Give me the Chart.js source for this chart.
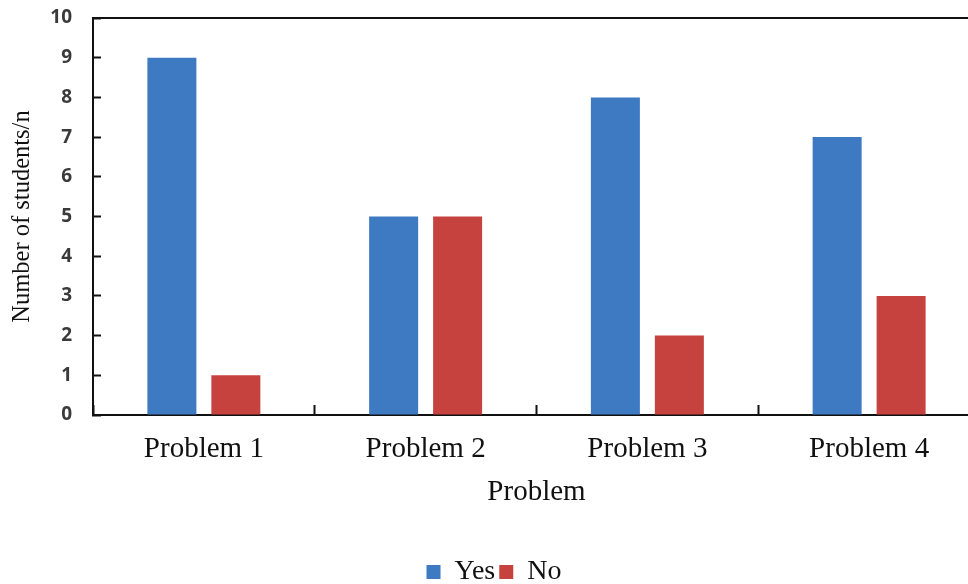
<!DOCTYPE html>
<html>
<head>
  <title>Number of students per problem</title>
  <script src="https://cdn.jsdelivr.net/npm/chart.js"></script>
  <style>
    html, body { margin: 0; padding: 0; background: #fff; overflow: hidden; }
    #wrap { width: 980px; height: 584px; }
  </style>
</head>
<body>
  <div id="wrap">
    <canvas id="studentsChart"></canvas>
  </div>

  <script>
    // Values
    const problems = ['Problem 1', 'Problem 2', 'Problem 3', 'Problem 4'];
    const yesCounts = [9, 5, 8, 7];
    const noCounts = [1, 5, 2, 3];
    const yTicks = [0, 1, 2, 3, 4, 5, 6, 7, 8, 9, 10];

    const serif = "'Liberation Serif', 'Times New Roman', serif";
    const sans = "'Open Sans', 'DejaVu Sans', sans-serif";

    const ctx = document.getElementById('studentsChart').getContext('2d');

    new Chart(ctx, {
      type: 'bar',
      data: {
        labels: problems,
        datasets: [
          {
            label: 'Yes',
            data: yesCounts,
            backgroundColor: '#3D7AC2',
            barPercentage: 0.766,
            categoryPercentage: 0.577
          },
          {
            label: 'No',
            data: noCounts,
            backgroundColor: '#C6423F',
            barPercentage: 0.766,
            categoryPercentage: 0.577
          }
        ]
      },
      options: {
        responsive: true,
        maintainAspectRatio: false,
        animation: false,
        layout: { padding: { top: 17, left: 8, right: 0, bottom: -12 } },
        scales: {
          x: {
            position: 'bottom',
            afterFit: scale => { scale.height = 139; },
            grid: {
              offset: true,
              drawOnChartArea: false,
              tickLength: -10,
              tickColor: '#111',
              tickWidth: 2
            },
            border: { color: '#111', width: 2 },
            ticks: {
              color: '#111',
              padding: 27,
              font: { family: serif, size: 29 }
            },
            title: {
              display: true,
              text: 'Problem',
              color: '#111',
              font: { family: serif, size: 29 },
              padding: { top: 0, bottom: 44 }
            }
          },
          xTop: {
            position: 'top',
            grid: { display: false },
            ticks: { display: false },
            border: { color: '#111', width: 2 },
            afterFit: scale => { scale.height = 1; }
          },
          y: {
            min: 0,
            max: 10,
            afterFit: scale => {
              scale.width = 85;
              // the label padding would otherwise push the plot down
              scale.paddingTop = 0;
              scale.paddingBottom = 0;
            },
            afterBuildTicks: scale => {
              scale.ticks = yTicks.map(v => ({ value: v }));
            },
            grid: {
              drawOnChartArea: false,
              tickLength: -8,
              tickColor: '#111',
              tickWidth: 2
            },
            border: { color: '#111', width: 2 },
            ticks: {
              color: '#3a3a3a',
              padding: 29,
              font: { family: sans, size: 19, weight: 'bold' }
            },
            title: {
              display: true,
              text: 'Number of students/n',
              color: '#111',
              font: { family: serif, size: 24.5 },
              padding: { top: 0, bottom: 0 }
            }
          }
        },
        plugins: {
          tooltip: { enabled: false },
          legend: {
            position: 'bottom',
            labels: {
              color: '#111',
              boxWidth: 14,
              boxHeight: 14,
              padding: 4,
              font: { family: serif, size: 28 }
            }
          }
        }
      }
    });
  </script>
</body>
</html>
